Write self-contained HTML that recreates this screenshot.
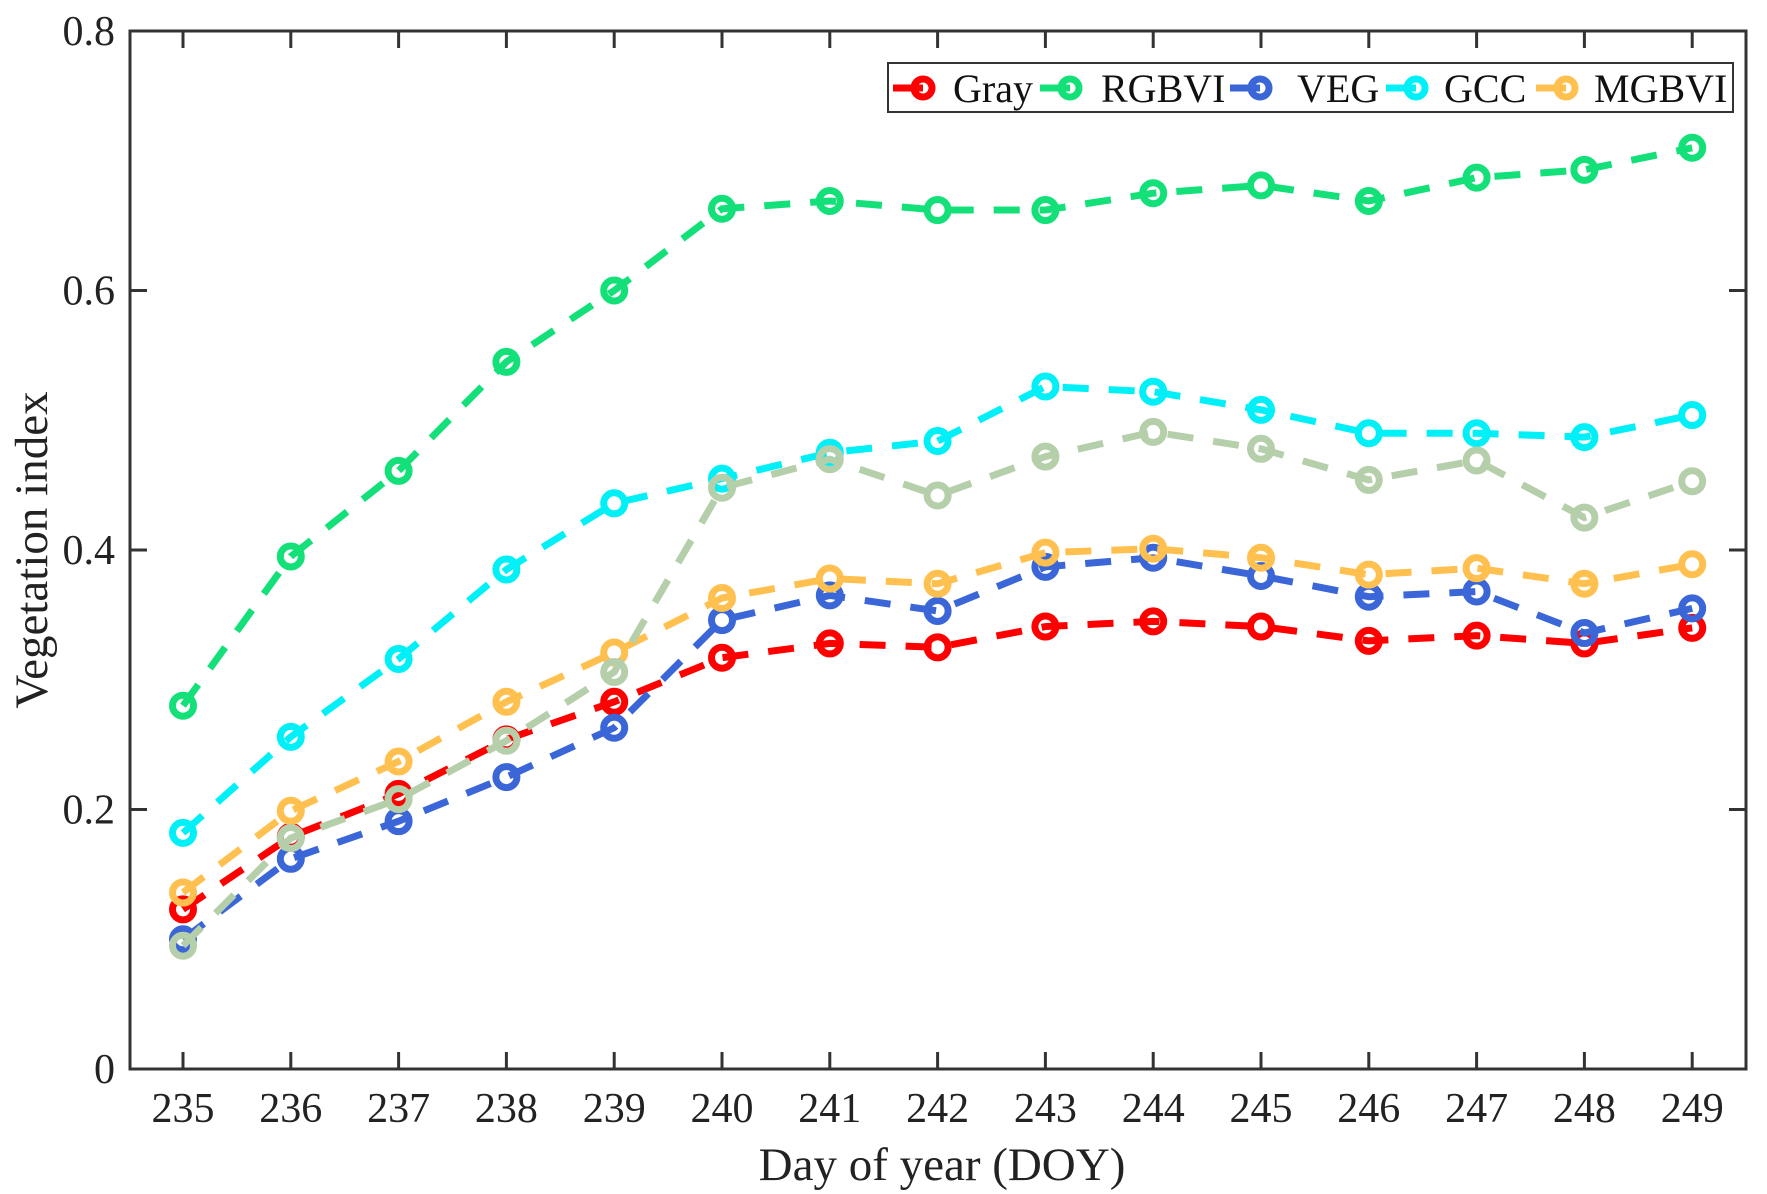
<!DOCTYPE html>
<html><head><meta charset="utf-8"><style>
html,body{margin:0;padding:0;background:#fff;}
svg{display:block;font-family:"Liberation Serif",serif;}
</style></head><body>
<svg width="1767" height="1194" viewBox="0 0 1767 1194" xmlns="http://www.w3.org/2000/svg">
<rect width="1767" height="1194" fill="#fff"/>
<g id="axes" stroke="#333" stroke-width="3" fill="none">
<rect x="130" y="31" width="1616" height="1038"/>
</g>
<g id="ticks" stroke="#333" stroke-width="3"></g>
<g id="labels" fill="#222" font-size="42"></g>
<g id="series" fill="none" stroke-width="7"></g>
<text x="36" y="550" font-size="47" fill="#222" text-anchor="middle" transform="rotate(-90 36 550)" dominant-baseline="middle">Vegetation index</text>
<text x="942" y="1180" font-size="47" fill="#222" text-anchor="middle">Day of year (DOY)</text>
<g id="legend">
<rect x="888" y="63" width="845" height="49" fill="#fff" stroke="#333" stroke-width="2"/>
</g>
<script>
var ns="http://www.w3.org/2000/svg";
function el(t,a,p){var e=document.createElementNS(ns,t);for(var k in a)e.setAttribute(k,a[k]);document.getElementById(p).appendChild(e);return e;}
var X=function(i){return 183+i*107.8;}, Y=function(v){return 1069-v*1297.5;};
for(var i=0;i<15;i++){var x=X(i);
el("line",{x1:x,y1:1069,x2:x,y2:1052},"ticks");el("line",{x1:x,y1:31,x2:x,y2:48},"ticks");
var t=el("text",{x:x,y:1122,"text-anchor":"middle"},"labels");t.textContent=235+i;}
for(var j=0;j<=4;j++){var v=j*0.2,y=Y(v);
el("line",{x1:130,y1:y,x2:147,y2:y},"ticks");el("line",{x1:1746,y1:y,x2:1729,y2:y},"ticks");
var t=el("text",{x:115,y:y+14,"text-anchor":"end"},"labels");t.textContent=j==0?"0":v.toFixed(1);}
var S=[
["#ff0000",[0.123,0.179,0.212,0.254,0.283,0.317,0.328,0.325,0.341,0.345,0.341,0.330,0.334,0.328,0.340]],
["#14e07a",[0.280,0.395,0.461,0.545,0.600,0.663,0.669,0.662,0.662,0.675,0.681,0.669,0.687,0.693,0.710]],
["#3a66d8",[0.100,0.162,0.191,0.225,0.263,0.346,0.365,0.353,0.387,0.394,0.380,0.364,0.368,0.336,0.355]],
["#00f0f8",[0.182,0.256,0.316,0.385,0.436,0.455,0.475,0.484,0.526,0.522,0.508,0.490,0.490,0.487,0.504]],
["#ffc04f",[0.136,0.199,0.237,0.283,0.321,0.363,0.378,0.374,0.398,0.401,0.394,0.381,0.386,0.374,0.389]],
["#b5cfaa",[0.095,0.178,0.208,0.253,0.306,0.448,0.470,0.442,0.472,0.491,0.478,0.454,0.469,0.425,0.453]]];
S.forEach(function(s){var p=s[1].map(function(v,i){return X(i)+","+Y(v);}).join(" ");
el("polyline",{points:p,stroke:s[0],"stroke-dasharray":"26 20"},"series");
s[1].forEach(function(v,i){el("circle",{cx:X(i),cy:Y(v),r:10.5,stroke:s[0],fill:"none","stroke-width":7},"series");});});
var L=[["Gray",923,953],["RGBVI",1070,1101],["VEG",1260,1297],["GCC",1416,1444],["MGBVI",1566,1594]];
L.forEach(function(l,k){var c=S[k][0];
el("line",{x1:l[1]-30,y1:88,x2:l[1],y2:88,stroke:c,"stroke-width":7},"legend");
el("circle",{cx:l[1],cy:88,r:9,stroke:c,fill:"none","stroke-width":7},"legend");
var t=el("text",{x:l[2],y:102,"font-size":40,fill:"#111"},"legend");t.textContent=l[0];});
</script>
</svg>
</body></html>
